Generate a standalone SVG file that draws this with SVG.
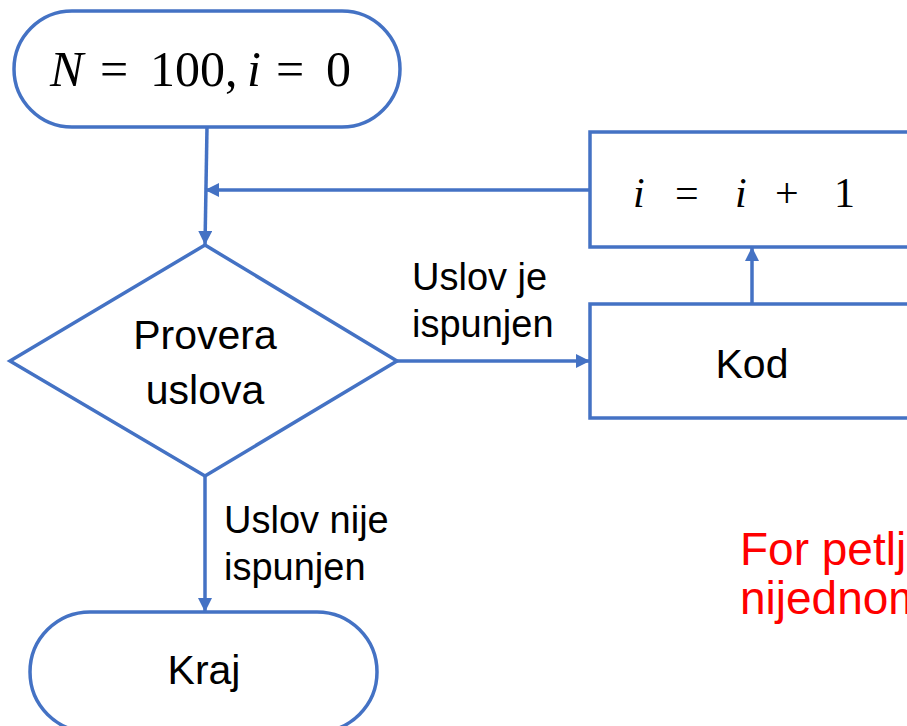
<svg xmlns="http://www.w3.org/2000/svg" width="907" height="726" viewBox="0 0 907 726">
<style>
.shape{fill:#fff;stroke:#4472C4;stroke-width:3.5}
.conn{fill:none;stroke:#4472C4;stroke-width:3.5}
.t{font-family:"Liberation Sans",Arial,sans-serif;font-size:41px;fill:#000;text-anchor:middle}
.lbl{font-family:"Liberation Sans",Arial,sans-serif;font-size:38px;fill:#000}
.red{font-family:"Liberation Sans",Arial,sans-serif;font-size:46px;fill:#FF0000}
.m{font-family:"Liberation Serif","Times New Roman",serif;fill:#000}
.it{font-style:italic}
</style>
<defs>
<marker id="arr" markerUnits="userSpaceOnUse" markerWidth="14" markerHeight="14" viewBox="0 0 14 14" refX="14" refY="7" orient="auto">
<path d="M0,0 L14,7 L0,14 Z" fill="#4472C4"/>
</marker>
</defs>
<rect width="907" height="726" fill="#fff"/>
<g id="connectors">
<path class="conn" d="M207,127 L205,245" marker-end="url(#arr)"/>
<path class="conn" d="M590,190 L205,190" marker-end="url(#arr)"/>
<path class="conn" d="M397,361 L590,361" marker-end="url(#arr)"/>
<path class="conn" d="M752,304 L752,247" marker-end="url(#arr)"/>
<path class="conn" d="M205,476 L205,612" marker-end="url(#arr)"/>
</g>
<g id="start">
<rect class="shape" x="14" y="11" width="386" height="116" rx="58" ry="58"/>
<text class="m" font-size="50" y="86">
<tspan x="50" class="it">N</tspan><tspan x="100">=</tspan><tspan x="150">100,</tspan><tspan x="247" class="it">i</tspan><tspan x="276">=</tspan><tspan x="326">0</tspan>
</text>
</g>
<g id="increment">
<rect class="shape" x="590" y="132" width="330" height="115"/>
<text class="m" font-size="42" y="207">
<tspan x="633" class="it">i</tspan><tspan x="675">=</tspan><tspan x="735" class="it">i</tspan><tspan x="775">+</tspan><tspan x="834">1</tspan>
</text>
</g>
<g id="decision">
<polygon class="shape" points="205,245 397,361 205,476 10,361"/>
<text class="t" x="205" y="349">Provera</text>
<text class="t" x="205" y="404">uslova</text>
</g>
<g id="code">
<rect class="shape" x="590" y="304" width="330" height="114"/>
<text class="t" x="752" y="378">Kod</text>
</g>
<g id="end">
<rect class="shape" x="30" y="612" width="347" height="120" rx="60" ry="60"/>
<text class="t" x="204" y="684">Kraj</text>
</g>
<g id="labels">
<text class="lbl" x="412" y="290">Uslov je</text>
<text class="lbl" x="412" y="337">ispunjen</text>
<text class="lbl" x="224" y="533">Uslov nije</text>
<text class="lbl" x="224" y="580">ispunjen</text>
<text class="red" x="740" y="565">For petlj</text>
<text class="red" x="740" y="614">nijednom</text>
</g>
</svg>
